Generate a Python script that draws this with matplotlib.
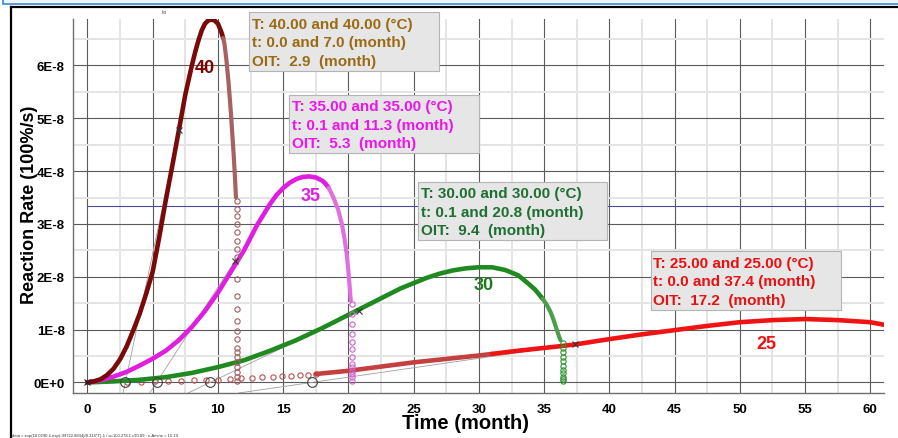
import matplotlib
matplotlib.use("Agg")
import matplotlib.pyplot as plt
import matplotlib.patches as patches
from matplotlib.lines import Line2D
import numpy as np

plt.rcParams['font.family'] = ['Liberation Sans', 'DejaVu Sans']

# ---- data (rates in units of 1E-8 %/s, time in months) ----
# 40 C
t40 = [0, 0.5, 1.0, 1.5, 2.0, 2.5, 3.0, 3.5, 4.0, 4.5, 5.0, 5.5, 6.0, 6.5, 7.0, 7.5, 8.0, 8.25, 8.5,
       8.75, 9.0, 9.25, 9.5, 9.75, 10.0, 10.25, 10.4]
r40 = [0, 0.02, 0.06, 0.14, 0.26, 0.44, 0.68, 0.98, 1.30, 1.68, 2.10, 2.75, 3.45, 4.10, 4.77, 5.45, 6.00,
       6.25, 6.47, 6.66, 6.79, 6.85, 6.87, 6.85, 6.79, 6.64, 6.52]
t40_fall = [10.4, 10.5, 10.65, 10.8, 10.9, 11.0, 11.1, 11.2, 11.3, 11.38]
r40_fall = [6.52, 6.41, 6.1, 5.71, 5.4, 5.08, 4.7, 4.33, 3.9, 3.5]
t40_drop = 11.45
r40_drop = [3.44, 3.28, 3.16, 3.0, 2.84, 2.68, 2.53, 2.37, 1.96, 1.64, 1.39, 1.17, 0.98,
            0.82, 0.66, 0.57, 0.48, 0.38, 0.29, 0.19, 0.1, 0.03]
# 35 C
t35 = [0, 1, 2, 3, 4, 5, 6, 7, 8, 9, 10, 11, 12, 13, 14, 14.5, 15, 15.5, 16, 16.5, 17, 17.5, 18, 18.25, 18.5]
r35 = [0, 0.04, 0.11, 0.2, 0.32, 0.45, 0.6, 0.8, 1.05, 1.35, 1.70, 2.1, 2.5, 2.98, 3.38, 3.55, 3.68, 3.78,
       3.85, 3.89, 3.9, 3.88, 3.82, 3.76, 3.68]
t35_fall = [18.5, 18.85, 19.2, 19.5, 19.7, 19.87, 20.0, 20.1, 20.18]
r35_fall = [3.68, 3.5, 3.28, 3.0, 2.72, 2.43, 2.1, 1.8, 1.55]
t35_drop = 20.25
r35_drop = [1.48, 1.3, 1.1, 0.92, 0.77, 0.63, 0.48, 0.35, 0.29, 0.22, 0.16, 0.1, 0.03]
# 30 C
t30 = [0, 2, 4, 6, 8, 10, 12, 14, 16, 18, 20, 22, 24, 26, 27, 28, 29, 30, 31, 32, 33, 33.65, 34.3, 34.9]
r30 = [0, 0.02, 0.05, 0.1, 0.18, 0.29, 0.42, 0.6, 0.8, 1.03, 1.28, 1.53, 1.78, 1.98, 2.06, 2.12, 2.16,
       2.18, 2.18, 2.13, 2.03, 1.9, 1.76, 1.58]
t30_fall = [34.9, 35.2, 35.5, 35.7, 35.9, 36.1, 36.25]
r30_fall = [1.58, 1.47, 1.33, 1.2, 1.05, 0.9, 0.8]
t30_drop = 36.45
r30_drop = [0.75, 0.66, 0.57, 0.49, 0.41, 0.32, 0.24, 0.17, 0.11, 0.06, 0.02]
# 25 C
t25_early = [3.0, 4.1, 5.2, 6.2, 7.2, 8.2, 9.1, 10.0, 10.9, 11.8, 12.6, 13.4, 14.2, 14.9, 15.6, 16.3, 16.9, 17.5]
r25_early = [0.0, 0.01, 0.02, 0.02, 0.03, 0.04, 0.05, 0.05, 0.07, 0.08, 0.09, 0.1, 0.11, 0.12, 0.13, 0.14, 0.15, 0.16]
t25_a = [17.5, 20, 25, 30, 31]
r25_a = [0.16, 0.22, 0.38, 0.51, 0.54]
t25_b = [31, 33, 36, 37.4, 40, 42.5, 45, 47.5, 50, 52.5, 55, 57.5, 60, 61.1]
r25_b = [0.54, 0.6, 0.68, 0.72, 0.82, 0.91, 0.99, 1.07, 1.14, 1.18, 1.2, 1.18, 1.14, 1.09]

# OIT tangent construction
oit = [2.9, 5.3, 9.4, 17.2]
t_tan = [7.0, 11.3, 20.8, 37.4]
r_tan = [4.77, 2.3, 1.35, 0.72]
ref_rate = 3.34

xticks = [0, 5, 10, 15, 20, 25, 30, 35, 40, 45, 50, 55, 60]
yticks = [0, 1, 2, 3, 4, 5, 6]
ylabels = ['0E+0', '1E-8', '2E-8', '3E-8', '4E-8', '5E-8', '6E-8']

box_lines = {
    '40': ['T: 40.00 and 40.00 (°C)', 't: 0.0 and 7.0 (month)', 'OIT:  2.9  (month)'],
    '35': ['T: 35.00 and 35.00 (°C)', 't: 0.1 and 11.3 (month)', 'OIT:  5.3  (month)'],
    '30': ['T: 30.00 and 30.00 (°C)', 't: 0.1 and 20.8 (month)', 'OIT:  9.4  (month)'],
    '25': ['T: 25.00 and 25.00 (°C)', 't: 0.0 and 37.4 (month)', 'OIT:  17.2  (month)'],
}

W, H = 898, 439
fig = plt.figure(figsize=(W / 100, H / 100), dpi=100)
fig.patch.set_facecolor('white')

ax = fig.add_axes([73 / W, (H - 394) / H, (884 - 73) / W, (394 - 20) / H])
xmin, xmax = -1.11, 61.05
ymin, ymax = -0.2, 6.88
ax.set_xlim(xmin, xmax)
ax.set_ylim(ymin, ymax)

ax.set_xticks(xticks)
ax.set_xticks(np.arange(2.5, 61, 5), minor=True)
ax.set_yticks(yticks)
ax.set_yticklabels(ylabels)
ax.set_yticks(np.arange(0.5, 6.9, 1), minor=True)
ax.grid(which='minor', color='#e4e4e4', lw=1.4, zorder=0)
ax.grid(which='major', color='#5a5a5a', lw=0.8, zorder=0)
ax.set_axisbelow(True)
ax.tick_params(which='both', length=0)
ax.tick_params(axis='x', pad=7)
ax.tick_params(axis='y', pad=6)
for lab in ax.get_xticklabels() + ax.get_yticklabels():
    lab.set_fontweight('bold')
    lab.set_fontsize(9.5)
for s in ['top', 'right']:
    ax.spines[s].set_visible(False)
for s in ['left', 'bottom']:
    ax.spines[s].set_color('#707070')
    ax.spines[s].set_linewidth(1.0)

ax.hlines(ref_rate, 0, xmax, color='#4a4a9a', lw=0.8, zorder=1)

# tangent lines
for o, tt, rt in zip(oit, t_tan, r_tan):
    tb = o + ymin * (tt - o) / rt
    ax.plot([tb, tt], [ymin, rt], color='#a0a0a0', lw=0.6, zorder=2)

band = dict(lw=3.3, solid_capstyle='round', solid_joinstyle='round', zorder=3)
fall = dict(lw=3.0, solid_capstyle='round', solid_joinstyle='round', zorder=3)
hollow = dict(ls='none', marker='o', mfc='none', ms=3.8, mew=0.8, zorder=3)

# 25
ax.plot(t25_early, r25_early, mec='#b85050', **hollow)
ax.plot(t25_a, r25_a, color='#c44040', **band)
ax.plot(t25_b, r25_b, color='#ee1414', **band)
# 30
ax.plot(t30, r30, color='#1f8a1f', **band)
ax.plot(t30_fall, r30_fall, color='#4aa04a', **fall)
ax.plot([t30_drop] * len(r30_drop), r30_drop, mec='#2e922e', **hollow)
# 35
ax.plot(t35, r35, color='#e01ee0', **band)
ax.plot(t35_fall, r35_fall, color='#e070e0', **fall)
ax.plot([t35_drop] * len(r35_drop), r35_drop, mec='#d060d0', **hollow)
# 40
ax.plot(t40, r40, color='#7a0a0a', **band)
ax.plot(t40_fall, r40_fall, color='#a86060', **fall)
ax.plot([t40_drop] * len(r40_drop), r40_drop, mec='#a06060', **hollow)

# tangent points, origin, OIT circles
ax.plot(t_tan, r_tan, ls='none', marker='x', color='#333333', ms=5, mew=0.8, zorder=4)
ax.plot([0], [0], ls='none', marker='x', color='#222222', ms=5, mew=0.8, zorder=4)
ax.plot(oit, [0] * len(oit), ls='none', marker='o', mfc='none', mec='#404040', ms=7, mew=0.8, zorder=4)

# curve labels
ax.text(9.0, 5.96, '40', color='#800000', fontsize=13, fontweight='bold', ha='center', va='center', zorder=5)
ax.text(17.1, 3.54, '35', color='#e01ee0', fontsize=13, fontweight='bold', ha='center', va='center', zorder=5)
ax.text(30.4, 1.86, '30', color='#1f7a1f', fontsize=13, fontweight='bold', ha='center', va='center', zorder=5)
ax.text(52.0, 0.74, '25', color='#ee1414', fontsize=13, fontweight='bold', ha='center', va='center', zorder=5)


def fx(x):
    return x / W


def fy(y):
    return 1 - y / H


# info boxes (pixel layout)
boxes = [('40', (249.3, 13.3, 438.7, 71.7), '#9b6a14'),
         ('35', (289.3, 95.7, 479.0, 154.0), '#ee14ee'),
         ('30', (418.3, 182.7, 607.3, 240.7), '#1f6f33'),
         ('25', (650.7, 252.3, 840.7, 310.7), '#e81010')]
for key, (x0, y0, x1, y1), col in boxes:
    rect = patches.Rectangle((fx(x0), fy(y1)), fx(x1) - fx(x0), fy(y0) - fy(y1),
                             transform=fig.transFigure, facecolor='#e6e6e6',
                             edgecolor='#b4b4b4', lw=0.8, zorder=10)
    fig.add_artist(rect)
    for i, line in enumerate(box_lines[key]):
        fig.text(fx(x0 + 2.5), fy(y0 + 11.7 + 18.3 * i), line, color=col, fontsize=11,
                 fontweight='bold', ha='left', va='center', zorder=11)

fig.text(fx(466), fy(424), 'Time (month)', fontsize=14.5, fontweight='bold', ha='center', va='center')
fig.text(fx(30), fy(205), 'Reaction Rate (100%/s)', fontsize=13, fontweight='bold',
         ha='center', va='center', rotation=90)

# window frame
fig.add_artist(patches.Rectangle((fx(3), fy(5)), 1, 5 / H, transform=fig.transFigure,
                                 facecolor='#eef6fb', edgecolor='#3a8ad6', lw=1.2))
fig.add_artist(Line2D([fx(10.5), fx(10.5)], [0, fy(8)], transform=fig.transFigure, color='black', lw=1.6))
fig.add_artist(Line2D([fx(10.5), 1], [fy(8), fy(8)], transform=fig.transFigure, color='black', lw=1.6))
fig.text(fx(162), fy(12), 'ko', fontsize=3.5, color='#555555', va='center')
fig.text(fx(12), fy(436), 'data = exp(18.0290-1.exp(-99722.8834)/8.314*T)-1 / a=100.278.1 c90.89 : n-Amine = 15.19',
         fontsize=3, color='#333333', va='center')

fig.savefig('out.png', dpi=100)
